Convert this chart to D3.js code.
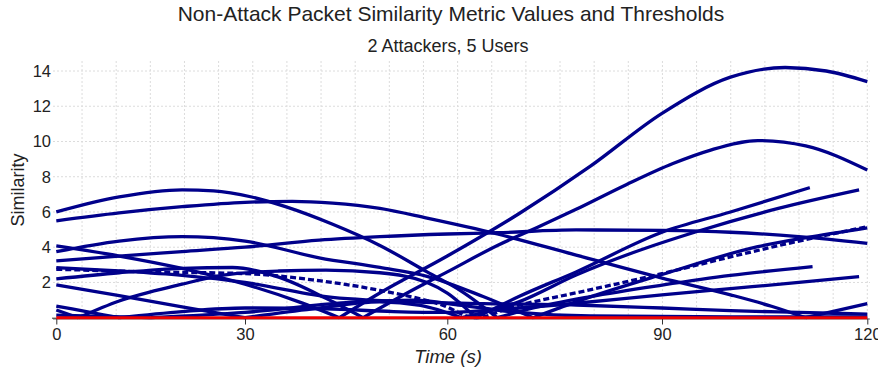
<!DOCTYPE html>
<html>
<head>
<meta charset="utf-8">
<script src="https://cdn.jsdelivr.net/npm/d3@7"></script>
<style>
  body { margin: 0; background: #fff; }
  text { font-family: "Liberation Sans", Arial, sans-serif; fill: #222; }
</style>
</head>
<body>
<svg id="chart" width="878" height="373"></svg>
<script>
const title = 'Non-Attack Packet Similarity Metric Values and Thresholds'
const subtitle = '2 Attackers, 5 Users'
const xLabel = 'Time (s)'
const yLabel = 'Similarity'

const xTicks = [0, 30, 60, 90, 120]
const yTicks = [2, 4, 6, 8, 10, 12, 14]
const threshold = [[0, 0], [120, 0]]

// [time, similarity]
const seriesA = [[0, 6.0], [10, 6.85], [20, 7.25], [25, 7.2], [31, 6.85], [36, 6.3], [43, 5.3], [50, 4.1], [57, 2.6], [62, 1.5], [67, 0], [72, 0.55], [80, 1.2], [90, 1.85], [100, 2.4], [112, 2.9]]
const seriesB = [[0, 5.5], [10, 5.95], [20, 6.3], [30, 6.55], [37, 6.6], [43, 6.5], [50, 6.2], [57, 5.65], [67, 4.75], [78, 3.55], [90, 2.25], [100, 1.3], [106, 0.65], [111, 0], [120, 0.8]]
const seriesC = [[0, 4.07], [10, 3.5], [20, 2.8], [30, 1.9], [38, 0.9], [44, 0], [50, 1.4], [60, 3.5], [70, 5.9], [80, 8.6], [90, 11.6], [100, 13.65], [108, 14.2], [114, 14.0], [120, 13.4]]
const seriesD = [[0, 3.75], [10, 4.35], [20, 4.6], [30, 4.35], [41, 3.4], [50, 2.85], [57, 2.35], [65, 1.2], [72, 0], [78, 0.9], [90, 2.45], [104, 4.03], [112, 4.6], [120, 5.1]]
const seriesE = [[0, 3.22], [10, 3.5], [20, 3.75], [30, 4.0], [41, 4.4], [50, 4.6], [60, 4.75], [67, 4.82], [78, 4.98], [90, 4.95], [100, 4.85], [110, 4.6], [120, 4.22]]
const seriesF = [[0, 2.84], [10, 2.65], [20, 2.4], [30, 2.0], [42, 1.2], [55, 0.9], [65, 0.8], [78, 0.72], [90, 0.55], [100, 0.4], [110, 0.3], [120, 0.2]]
const seriesG = [[0, 2.2], [10, 2.55], [20, 2.8], [28, 2.85], [35, 2.3], [42, 1.1], [47.5, 0], [55, 1.6], [60, 2.6], [67, 4.1], [73, 5.2], [78, 6.15], [85, 7.55], [91.6, 8.75], [97, 9.5], [104, 10.05], [111, 9.75], [120, 8.38]]
const seriesH = [[0, 1.86], [10, 1.25], [20, 0.62], [30, 0], [40, 0.5], [50, 0.9], [56, 0.7], [62, 0], [70, 0.9], [78, 2.42], [86, 3.7], [95, 4.88], [107, 6.2], [118.8, 7.25]]
const seriesI = [[0, 0.66], [5, 0.33], [10, 0], [20, 0.35], [30, 0.55], [42, 0.5], [52, 0.35], [60, 0.3], [70, 0.55], [78, 0.82], [90, 1.3], [100, 1.65], [110, 2.0], [118.8, 2.33]]
const seriesJ = [[0, 0.44], [3.5, 0], [10, 0.95], [20, 1.9], [26.5, 2.42], [35, 2.65], [42, 2.7], [50, 2.55], [57, 2.0], [60, 1.4], [64, 0], [70, 1.2], [78, 2.6], [90, 4.85], [100, 6.0], [111.6, 7.38]]
const seriesK = [[0, 0.15], [15, 0], [30, 0.3], [45, 0.85], [55, 1.0], [62, 0.7], [70, 0.3], [80, 0.1], [100, 0.05], [120, 0.05]]
const seriesDash = [[0, 2.75], [15, 2.6], [30, 2.5], [40, 2.15], [50, 1.55], [59, 0.75], [64, 0], [69, 0.6], [79, 1.5], [90, 2.5], [100, 3.45], [110, 4.35], [120, 5.16]]

const solidSeries = [seriesA, seriesB, seriesC, seriesD, seriesE, seriesF, seriesG, seriesH, seriesI, seriesJ, seriesK]

const svg = d3.select('#chart')

const x = d3.scaleLinear().domain(xTicks).range([56.3, 245, 447.3, 662, 867.3])
const gridX = d3.scaleLinear().domain([0, 120]).range([47.9, 867.3])
const y = d3.scaleLinear().domain([0, 14]).range([317.7, 71])
const plotTop = 61

// grid
const grid = svg.append('g').attr('stroke', '#dcdcdc').attr('stroke-dasharray', '2,2').attr('stroke-width', 1)
grid.selectAll('line.v')
  .data(d3.range(5, 121, 5))
  .join('line')
  .attr('class', 'v')
  .attr('x1', d => gridX(d)).attr('x2', d => gridX(d))
  .attr('y1', plotTop).attr('y2', y(0))
grid.selectAll('line.h')
  .data(yTicks)
  .join('line')
  .attr('class', 'h')
  .attr('x1', 53).attr('x2', 870)
  .attr('y1', d => y(d)).attr('y2', d => y(d))

// axes
const xAxis = svg.append('g')
  .attr('transform', `translate(0,${y(0) + 0.8})`)
  .call(d3.axisBottom(x).tickValues(xTicks).tickSize(6).tickPadding(4).tickSizeOuter(0))
xAxis.select('.domain').attr('stroke', '#666').attr('d', 'M53,0.5H870')
xAxis.selectAll('.tick line').attr('stroke', '#333')
xAxis.selectAll('.tick text').attr('font-size', 16.5).attr('fill', '#222')

const yAxis = svg.append('g')
  .attr('transform', 'translate(57,0)')
  .call(d3.axisLeft(y).tickValues(yTicks).tickSize(0).tickPadding(6))
yAxis.select('.domain').remove()
yAxis.selectAll('.tick text').attr('font-size', 16.5).attr('fill', '#222')
svg.append('line').attr('x1', 52).attr('x2', 57).attr('y1', y(0) + 0.5).attr('y2', y(0) + 0.5).attr('stroke', '#333')

// series, split at zero touches so bounces stay sharp
const line = d3.line().x(d => x(d[0])).y(d => y(d[1])).curve(d3.curveMonotoneX)
const splitAtZero = s => {
  const parts = []
  let cur = []
  s.forEach(p => {
    cur.push(p)
    if (p[1] <= 0.001 && cur.length > 1) { parts.push(cur); cur = [p] }
  })
  if (cur.length > 1) parts.push(cur)
  return parts
}

const lines = svg.append('g').attr('fill', 'none').attr('stroke', '#00008b').attr('stroke-width', 3.3)
lines.append('path')
  .attr('d', line(seriesDash))
  .attr('stroke-dasharray', '6,3')
lines.selectAll('path.s')
  .data(solidSeries.flatMap(splitAtZero))
  .join('path')
  .attr('class', 's')
  .attr('d', line)

svg.append('path')
  .attr('d', line(threshold))
  .attr('fill', 'none')
  .attr('stroke', '#ee0000')
  .attr('stroke-width', 3)

// titles
svg.append('text').attr('x', 451).attr('y', 21).attr('text-anchor', 'middle').attr('font-size', 21).text(title)
svg.append('text').attr('x', 448).attr('y', 51.5).attr('text-anchor', 'middle').attr('font-size', 18).text(subtitle)
svg.append('text').attr('x', 448).attr('y', 363).attr('text-anchor', 'middle').attr('font-size', 18.5).attr('font-style', 'italic').text(xLabel)
svg.append('text').attr('transform', 'translate(24,190) rotate(-90)').attr('text-anchor', 'middle').attr('font-size', 18).text(yLabel)
</script>
</body>
</html>
